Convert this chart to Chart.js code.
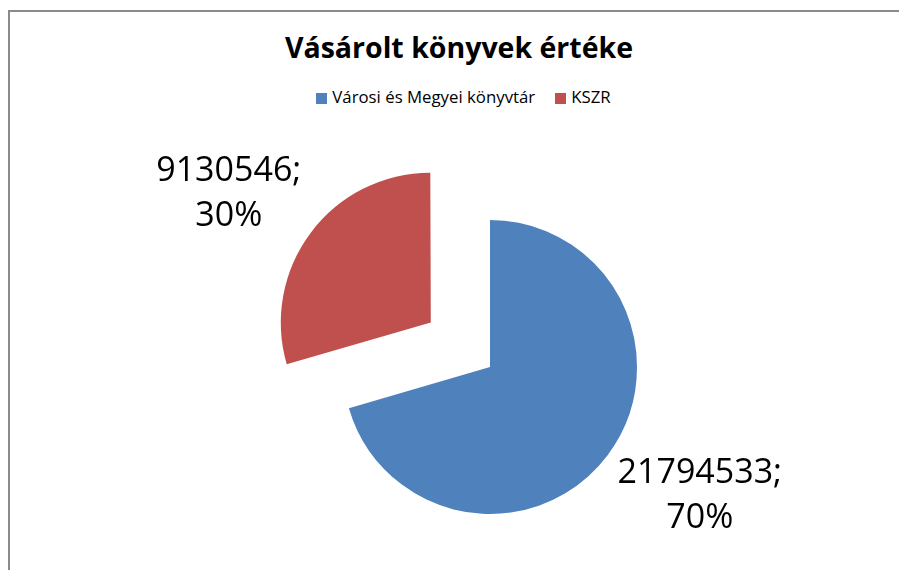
<!DOCTYPE html>
<html>
<head>
<meta charset="utf-8">
<title>Vásárolt könyvek értéke</title>
<script src="https://cdn.jsdelivr.net/npm/chart.js@4/dist/chart.umd.min.js"></script>
<style>
  html, body { margin: 0; padding: 0; background: #fff; overflow: hidden; }
  body { width: 899px; height: 570px; position: relative; font-family: 'Open Sans', sans-serif; }
  #frame { position: absolute; left: 8px; top: 10px; width: 900px; height: 600px;
           border-left: 2px solid #8a8a8a; border-top: 2px solid #8a8a8a; }
  #title { position: absolute; left: 0; top: 30px; width: 918px; text-align: center;
           font-size: 28.5px; font-weight: bold; line-height: 34px; color: #000; }
  #legend { position: absolute; left: 0; top: 87px; width: 927px; display: flex;
            justify-content: center; font-size: 16.8px; line-height: 20px; color: #000; }
  #legend .item { display: flex; align-items: center; margin: 0 10px; }
  #legend .box { width: 11px; height: 11px; margin-right: 5px; margin-top: 3px; }
  #chartBox { position: absolute; left: 0; top: 0; width: 899px; height: 570px; }
</style>
</head>
<body>
<div id="frame"></div>
<div id="title">Vásárolt könyvek értéke</div>
<div id="legend"></div>
<div id="chartBox"><canvas id="pieChart"></canvas></div>

<script>
// data
const labels = ['Városi és Megyei könyvtár', 'KSZR'];
const values = [21794533, 9130546];
const colors = ['#4F81BD', '#C0504D'];
const explode = [0, 296];   // only KSZR slice pulled out

// legend (html)
const legendEl = document.getElementById('legend');
for (let i = 0; i < labels.length; i++) {
  const item = document.createElement('div');
  item.className = 'item';
  item.innerHTML = '<span class="box" style="background:' + colors[i] + '"></span><span>' + labels[i] + '</span>';
  legendEl.appendChild(item);
}

// labels outside the slices: "value;" / "pct%"
const outsideLabels = {
  id: 'outsideLabels',
  afterDatasetsDraw(chart) {
    const ctx = chart.ctx;
    const meta = chart.getDatasetMeta(0);
    const data = chart.data.datasets[0].data;
    const total = data.reduce((a, b) => a + b, 0);
    const lineGap = 45;
    const gap = 33;

    ctx.save();
    ctx.font = '34px "Open Sans", sans-serif';
    ctx.fillStyle = '#000';
    ctx.textAlign = 'center';
    ctx.textBaseline = 'middle';

    meta.data.forEach((arc, i) => {
      const p = arc.getProps(['x', 'y', 'startAngle', 'endAngle', 'outerRadius'], true);
      const mid = (p.startAngle + p.endAngle) / 2;
      const dx = Math.cos(mid), dy = Math.sin(mid);
      const shift = (arc.options.offset || 0) / 4;
      const line1 = data[i] + ';';
      const line2 = Math.round(data[i] / total * 100) + '%';
      const halfW = Math.max(ctx.measureText(line1).width, ctx.measureText(line2).width) / 2;
      const halfH = (lineGap + 24) / 2;
      const r = p.outerRadius + shift + gap;
      const cx = p.x + dx * r + dx * halfW;
      const cy = p.y + dy * r + dy * halfH;
      ctx.fillText(line1, cx, cy - lineGap / 2);
      ctx.fillText(line2, cx, cy + lineGap / 2);
    });
    ctx.restore();
  }
};

const ctx = document.getElementById('pieChart').getContext('2d');
const myChart = new Chart(ctx, {
  type: 'pie',
  data: {
    labels: labels,
    datasets: [{
      data: values,
      backgroundColor: colors,
      borderWidth: 0,
      offset: explode,
      hoverOffset: 0,
      radius: 147
    }]
  },
  options: {
    responsive: true,
    maintainAspectRatio: false,
    animation: false,
    layout: { padding: { left: 81, right: 0, top: 164, bottom: 0 } },
    plugins: {
      legend: { display: false },
      title: { display: false },
      tooltip: { enabled: false }
    }
  },
  plugins: [outsideLabels]
});
</script>
</body>
</html>
